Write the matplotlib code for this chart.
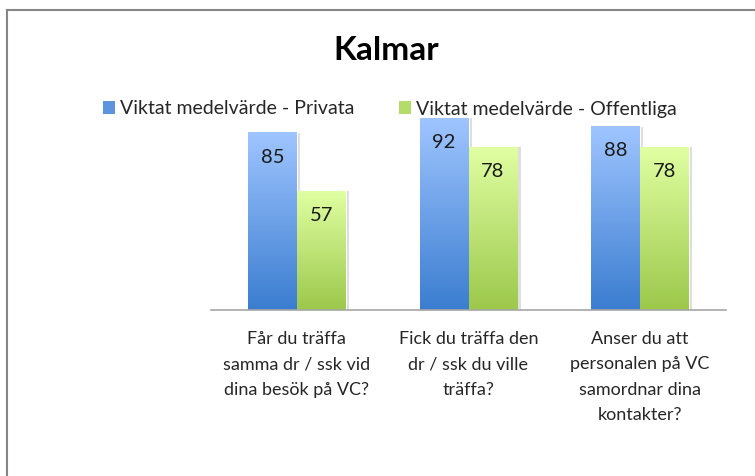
import numpy as np
import matplotlib
matplotlib.use('Agg')
import matplotlib.pyplot as plt
from matplotlib.colors import LinearSegmentedColormap
from matplotlib.patches import Patch
from matplotlib.lines import Line2D

plt.rcParams['font.family'] = ['Lato', 'DejaVu Sans']

title = 'Kalmar'
categories = ['Får du träffa\nsamma dr / ssk vid\ndina besök på VC?',
              'Fick du träffa den\ndr / ssk du ville\nträffa?',
              'Anser du att\npersonalen på VC\nsamordnar dina\nkontakter?']
series_names = ['Viktat medelvärde - Privata', 'Viktat medelvärde - Offentliga']
privata = [85, 92, 88]
offentliga = [57, 78, 78]

# top colour, bottom colour
blue = ('#9fc5ff', '#3b7dd0')
green = ('#e0ffa2', '#9cc84b')

fig = plt.figure(figsize=(7.55, 4.76), dpi=100)
ax = fig.add_axes([211/755, 1-310/476, 515/755, 208.5/476])

x = np.arange(len(categories))
w = 0.285

def grad_bars(xs, vals, cols):
    cmap = LinearSegmentedColormap.from_list('g', [cols[1], cols[0]])
    grad = np.linspace(0, 1, 256).reshape(-1, 1)
    bars = ax.bar(xs, vals, w, color='none', edgecolor='none')
    for b in bars:
        x0 = b.get_x()
        h = b.get_height()
        # soft shadow on the right
        ax.bar(x0 + b.get_width() + 0.006, h, 0.012, align='edge', color='#dedede', zorder=1)
        ax.imshow(grad, cmap=cmap, origin='lower', aspect='auto', zorder=2,
                  extent=(x0, x0 + b.get_width(), 0, h))
    for xi, v in zip(xs, vals):
        ax.annotate(str(v), (xi, v), xytext=(0, -17.5), textcoords='offset points',
                    ha='center', va='center', fontsize=14.5, color='#1a1a1a', zorder=3)

grad_bars(x - w/2, privata, blue)
grad_bars(x + w/2, offentliga, green)

ax.set_xlim(-0.5, 2.5)
ax.set_ylim(0, 100)
for s in ['top', 'right', 'left']:
    ax.spines[s].set_visible(False)
ax.spines['bottom'].set_color('#a6a6a6')
ax.spines['bottom'].set_linewidth(1.2)
ax.set_yticks([])
ax.set_xticks(x)
ax.set_xticklabels(categories, fontsize=13, color='#262626', linespacing=1.72, va='top')
ax.tick_params(axis='x', length=0, pad=15)

fig.text(386/755, 1-51/476, title, ha='center', va='center', fontsize=24,
         fontweight='bold', color='black')

handles = [Patch(facecolor='#5e93de', edgecolor='none'),
           Patch(facecolor='#b5dc6a', edgecolor='none')]
fig.legend(handles, series_names, loc='center', bbox_to_anchor=(390/755, 1-109/476),
           ncol=2, frameon=False, fontsize=14, handlelength=0.62, handleheight=0.62,
           handletextpad=0.26, columnspacing=2.27, borderaxespad=0, labelcolor='#262626')

fig.add_artist(Line2D([6.5/755, 1], [1-9.5/476, 1-9.5/476], color='#868686', lw=1.5))
fig.add_artist(Line2D([6.5/755, 6.5/755], [0, 1-9.5/476], color='#868686', lw=1.5))

fig.savefig('out.png', dpi=100)
